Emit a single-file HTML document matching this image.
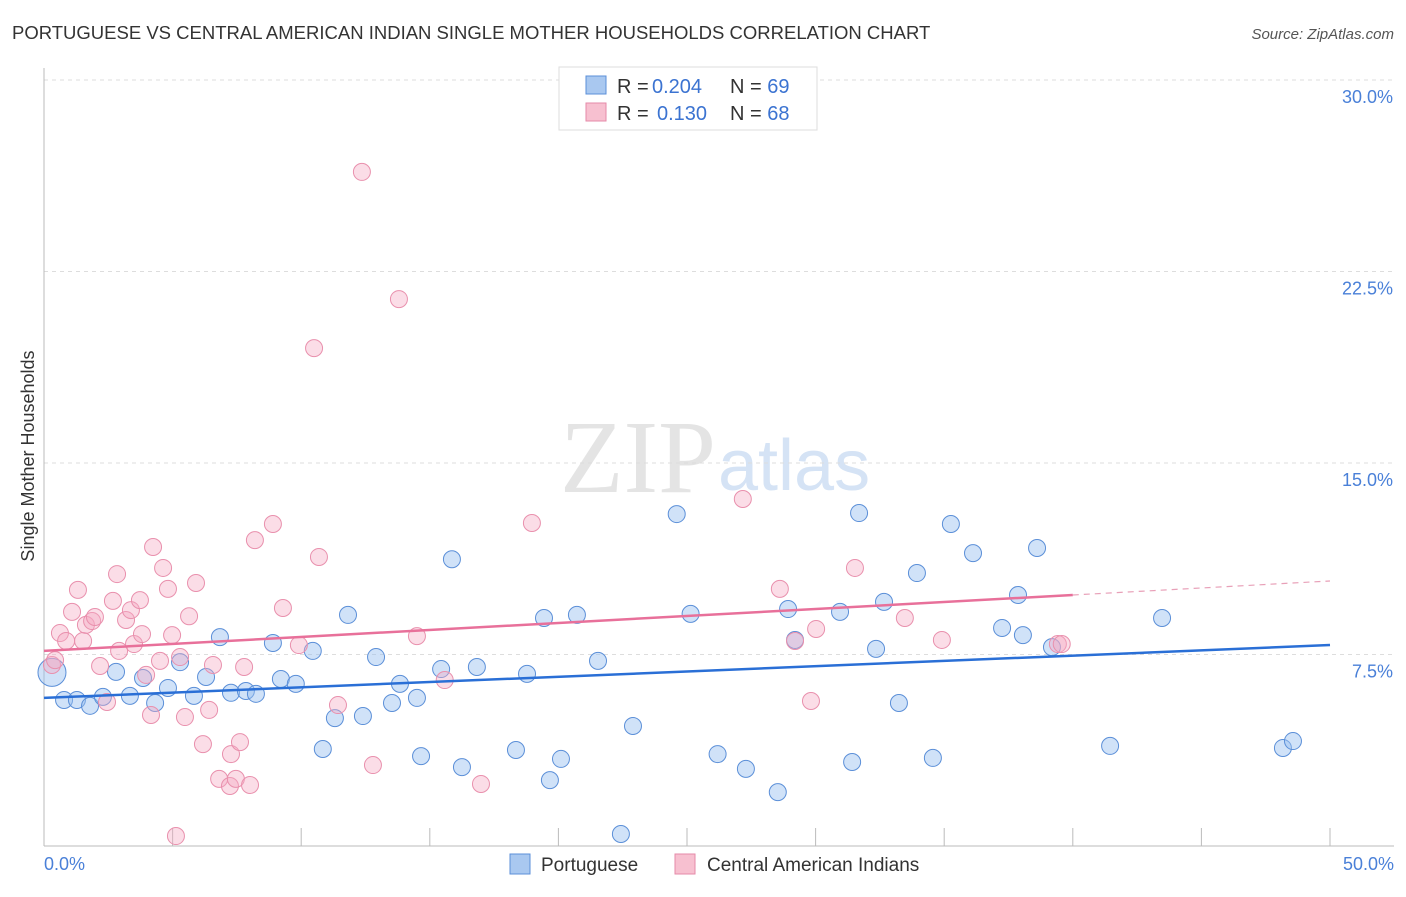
<!DOCTYPE html>
<html><head><meta charset="utf-8"><style>
body{margin:0;background:#fff;font-family:"Liberation Sans",sans-serif}
svg text{font-family:"Liberation Sans",sans-serif}
</style></head><body>
<svg id="c" width="1406" height="892" xmlns="http://www.w3.org/2000/svg">
<text x="12" y="39" font-size="18.5" fill="#333">PORTUGUESE VS CENTRAL AMERICAN INDIAN SINGLE MOTHER HOUSEHOLDS CORRELATION CHART</text>
<text x="1394" y="39" font-size="15" fill="#555" font-style="italic" text-anchor="end">Source: ZipAtlas.com</text>
<text x="716" y="492" font-size="104" fill="#e4e4e4" text-anchor="end" style="font-family:'Liberation Serif',serif">ZIP</text>
<text x="718" y="490" font-size="72" fill="#d5e3f5">atlas</text>
<text transform="translate(34,456) rotate(-90)" font-size="18" fill="#333" text-anchor="middle">Single Mother Households</text>
<g id="grid"></g><g id="pts"></g><g id="lines"></g>
<g>
<rect x="559" y="67" width="258" height="63" fill="#fff" stroke="#ddd"/>
<rect x="586" y="76" width="20" height="18" fill="#a9c8f0" stroke="#5b8fd8"/>
<rect x="586" y="103" width="20" height="18" fill="#f7c0d0" stroke="#e68aa8"/>
<text x="617" y="93" font-size="20" fill="#333">R = <tspan x="652" fill="#3b73d1">0.204</tspan><tspan x="730">N = </tspan><tspan fill="#3b73d1">69</tspan></text>
<text x="617" y="120" font-size="20" fill="#333">R = <tspan x="657" fill="#3b73d1">0.130</tspan><tspan x="730">N = </tspan><tspan fill="#3b73d1">68</tspan></text>
</g>
<g>
<rect x="510" y="854" width="20" height="20" fill="#a9c8f0" stroke="#5b8fd8"/>
<text x="541" y="871" font-size="19" fill="#333">Portuguese</text>
<rect x="675" y="854" width="20" height="20" fill="#f7c0d0" stroke="#e68aa8"/>
<text x="707" y="871" font-size="19" fill="#333">Central American Indians</text>
</g>
</svg>
<script>
const yTicks=[7.5,15,22.5,30];
const yTickLabels=["7.5%","15.0%","22.5%","30.0%"];
const xTickLabels=["0.0%","50.0%"];
const bluePts=[[0.31,6.8],[0.78,5.72],[1.28,5.72],[1.79,5.49],[2.29,5.84],[2.8,6.82],[3.34,5.88],[3.85,6.58],[4.32,5.6],[4.82,6.19],[5.29,7.2],[5.83,5.88],[6.3,6.62],[6.84,8.18],[7.27,6.0],[7.85,6.07],[8.24,5.96],[8.9,7.95],[9.21,6.54],[9.79,6.35],[10.45,7.64],[10.84,3.8],[11.31,5.01],[11.82,9.05],[12.4,5.09],[12.91,7.4],[13.53,5.6],[13.84,6.35],[14.5,5.8],[14.66,3.52],[15.44,6.93],[15.86,11.23],[16.25,3.09],[16.83,7.01],[18.35,3.76],[18.78,6.74],[19.44,8.93],[19.67,2.58],[20.1,3.41],[20.72,9.05],[21.54,7.25],[22.43,0.47],[22.9,4.7],[24.6,13.0],[25.14,9.09],[26.19,3.6],[27.29,3.02],[28.53,2.11],[28.93,9.28],[29.2,8.07],[30.95,9.17],[31.42,3.29],[31.69,13.04],[32.35,7.72],[32.66,9.56],[33.24,5.6],[33.94,10.69],[34.56,3.45],[35.26,12.61],[36.12,11.47],[37.25,8.54],[37.87,9.83],[38.06,8.26],[38.61,11.67],[39.19,7.79],[41.45,3.92],[43.47,8.93],[48.17,3.84],[48.56,4.11]];
const pinkPts=[[0.31,7.09],[0.43,7.28],[0.62,8.34],[0.86,8.03],[1.09,9.17],[1.32,10.03],[1.52,8.03],[1.63,8.66],[1.87,8.81],[1.98,8.97],[2.18,7.05],[2.45,5.64],[2.68,9.6],[2.84,10.65],[2.92,7.64],[3.19,8.85],[3.38,9.24],[3.5,7.91],[3.73,9.63],[3.81,8.3],[3.97,6.7],[4.16,5.13],[4.24,11.71],[4.51,7.25],[4.63,10.89],[4.82,10.07],[4.98,8.26],[5.13,0.39],[5.29,7.4],[5.48,5.05],[5.64,9.0],[5.91,10.3],[6.18,3.99],[6.42,5.33],[6.57,7.09],[6.81,2.63],[7.23,2.35],[7.27,3.6],[7.46,2.63],[7.62,4.07],[7.78,7.01],[8.01,2.39],[8.2,11.98],[8.9,12.61],[9.29,9.32],[9.91,7.87],[10.5,19.5],[10.69,11.32],[11.43,5.52],[12.36,26.4],[12.79,3.17],[13.8,21.42],[14.5,8.22],[15.58,6.5],[16.99,2.43],[18.97,12.65],[27.17,13.59],[28.61,10.07],[29.2,8.03],[29.82,5.68],[30.02,8.5],[31.53,10.89],[33.47,8.93],[34.91,8.07],[39.42,7.91],[39.57,7.91]];
const blueLine=[[0,5.8],[50,7.87]];
const pinkLine=[[0,7.64],[40,9.83],[50,10.38]];
const NS='http://www.w3.org/2000/svg';
const X=v=>44+v/50*1286, Y=v=>846-v/7.5*191.5;
function mk(t,a,p){const e=document.createElementNS(NS,t);for(const k in a)e.setAttribute(k,a[k]);p.appendChild(e);return e;}
const g=document.getElementById('grid');
yTicks.forEach((t,i)=>{
 const l=mk('line',{x1:44,x2:1394,y1:Y(t),y2:Y(t),stroke:'#ddd','stroke-dasharray':'4,4'},g);
 
 
 const tx=mk('text',{x:1393,y:Y(t)+23,'font-size':18,fill:'#4a80d8','text-anchor':'end'},g);
 tx.textContent=yTickLabels[i];
 
 
});
mk('line',{x1:44,x2:44,y1:68,y2:846,stroke:'#bbb'},g);
mk('line',{x1:44,x2:1394,y1:846,y2:846,stroke:'#bbb'},g);
for(let i=1;i<=10;i++){mk('line',{x1:X(i*5),x2:X(i*5),y1:828,y2:846,stroke:'#bbb'},g);}
[[0,'start',44],[50,'end',1394]].forEach((d,i)=>{
 const tx=mk('text',{x:d[2],y:870,'font-size':18,fill:'#4a80d8','text-anchor':d[1]},g);
 tx.textContent=xTickLabels[i];
 
 
});
const p=document.getElementById('pts');
bluePts.forEach((d,i)=>{
 const c=mk('circle',{cx:X(d[0]),cy:Y(d[1]),r:i==0?14:8.5,fill:'rgba(150,190,240,0.45)',stroke:'#5b8fd8','stroke-width':1},p);
 
 
});
pinkPts.forEach(d=>{
 const c=mk('circle',{cx:X(d[0]),cy:Y(d[1]),r:8.5,fill:'rgba(245,170,195,0.4)',stroke:'#e990ad','stroke-width':1},p);
 
 
});
const L=document.getElementById('lines');
const bl=mk('line',{x1:X(blueLine[0][0]),y1:Y(blueLine[0][1]),x2:X(blueLine[1][0]),y2:Y(blueLine[1][1]),stroke:'#2a6fd6','stroke-width':2.5},L);


const pl=mk('line',{x1:X(pinkLine[0][0]),y1:Y(pinkLine[0][1]),x2:X(pinkLine[1][0]),y2:Y(pinkLine[1][1]),stroke:'#e8709a','stroke-width':2.5},L);


const pd=mk('line',{x1:X(pinkLine[1][0]),y1:Y(pinkLine[1][1]),x2:X(pinkLine[2][0]),y2:Y(pinkLine[2][1]),stroke:'#e8a0b8','stroke-width':1.2,'stroke-dasharray':'6,5'},L);


</script>
</body></html>
